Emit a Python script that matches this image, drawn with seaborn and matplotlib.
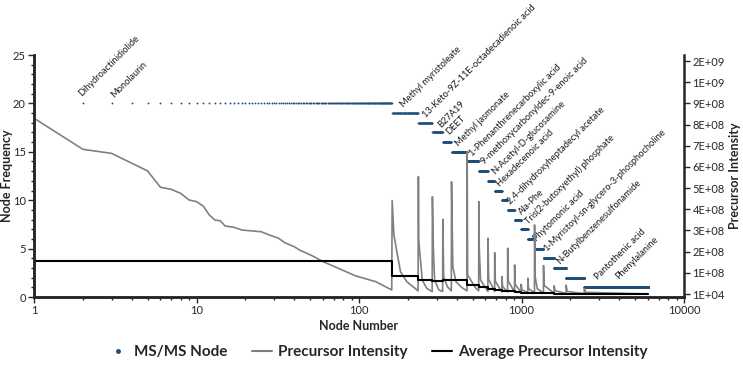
import numpy as np
import pandas as pd

import matplotlib
matplotlib.use("Agg")
import matplotlib.pyplot as plt
from matplotlib.lines import Line2D
from matplotlib.ticker import MultipleLocator, FuncFormatter, NullFormatter
import seaborn as sns


# frequency groups of MS/MS nodes (node numbers sorted by frequency)
freq_levels = [20, 19, 18, 17, 16, 15, 14, 13, 12, 11, 10, 9, 8, 7, 6, 5, 4, 3, 2, 1]
group_first = [1, 160, 232, 283, 328, 371, 463, 546, 622, 684, 758, 822, 907, 996,
               1094, 1203, 1366, 1588, 1882, 2436]
group_last = [159, 231, 282, 327, 370, 462, 545, 621, 683, 757, 821, 906, 995, 1093,
              1202, 1365, 1587, 1881, 2435, 6012]

# average precursor intensity per group (units of 1E+08)
avg_intensity = [1.57, 0.85, 0.66, 0.63, 0.66, 0.66, 0.41, 0.34, 0.25, 0.19, 0.15,
                 0.13, 0.11, 0.07, 0.06, 0.05, 0.04, 0.02, 0.01, 0.0]

# precursor intensity (units of 1E+08)
gray_node = [1, 2, 3, 5, 6, 7, 8, 9, 10, 11, 12, 13, 14, 15, 17, 19, 25, 28, 32, 35,
             40, 43, 52, 60, 79, 95, 127, 159,
             160, 164, 171, 180, 197, 231,
             232, 233, 245, 261, 282,
             283, 287, 292, 310, 327,
             328, 332, 350, 370,
             371, 378, 395, 430, 462,
             463, 466, 520, 545,
             546, 550, 560, 621,
             622, 628, 683,
             684, 690, 757,
             758, 765, 821,
             822, 830, 906,
             907, 915, 995,
             996, 1005, 1093,
             1094, 1105, 1202,
             1203, 1215, 1250, 1365,
             1366, 1380, 1587,
             1588, 1610, 1881,
             1882, 1910, 2435,
             2436, 2480, 6012]
gray_value = [8.30, 6.83, 6.64, 5.81, 5.04, 4.94, 4.75, 4.44, 4.36, 4.15, 3.73, 3.49,
              3.46, 3.21, 3.15, 3.02, 2.94, 2.79, 2.63, 2.42, 2.23, 2.08, 1.79, 1.53,
              1.13, 0.86, 0.58, 0.19,
              4.41, 2.79, 2.00, 1.05, 0.58, 0.15,
              5.54, 2.55, 0.66, 0.27, 0.11,
              4.59, 2.08, 0.66, 0.19, 0.12,
              3.53, 0.82, 0.34, 0.15,
              5.30, 1.29, 0.58, 0.30, 0.15,
              6.72, 0.90, 0.30, 0.15,
              4.36, 2.08, 0.66, 0.12,
              2.63, 0.70, 0.12,
              1.95, 0.60, 0.10,
              0.82, 0.35, 0.10,
              2.16, 0.60, 0.10,
              1.37, 0.45, 0.08,
              0.46, 0.20, 0.06,
              0.74, 0.25, 0.06,
              3.26, 0.80, 0.25, 0.05,
              1.34, 0.40, 0.04,
              0.39, 0.15, 0.03,
              0.42, 0.12, 0.02,
              0.27, 0.08, 0.00]

right_tick_labels = ["1E+04", "1E+08", "2E+08", "3E+08", "4E+08", "5E+08", "6E+08",
                     "7E+08", "8E+08", "9E+08", "1E+09", "2E+09"]

# compound annotations: text, node number, frequency at text start
label_text = ["Dihydroactinidiolide", "Monolaurin", "Methyl myristoleate",
              "13-Keto-9Z-11E-octadecadienoic acid", "B27A19", "DEET",
              "Methyl jasmonate", "1-Phenanthrenecarboxylic acid",
              "9-methoxycarbonyldec-9-enoic acid", "N-Acetyl-D-glucosamine",
              "Hexadecenoic acid", "2,4-dihydroxyheptadecyl acetate", "Ala-Phe",
              "Tris(2-butoxyethyl) phosphate", "Phytomonic acid",
              "1-Myristoyl-sn-glycero-3-phosphocholine", "N-Butylbenzenesulfonamide",
              "Pantothenic acid", "Phenylalanine"]
label_node = [1.96, 3.10, 188.8, 257.7, 321.7, 360.0, 410.8, 502.6, 592.9, 680.0,
              740.3, 859.9, 1004, 1104, 1241, 1429, 1728, 2968, 3937]
label_freq = [20.69, 20.56, 19.52, 18.49, 17.49, 16.74, 15.53, 14.49, 13.64, 12.60,
              11.39, 9.50, 8.47, 7.44, 5.71, 4.68, 3.31, 1.76, 1.76]


blue = "#1F4E79"
gray = "#808080"

sns.set_style("ticks")
plt.rcParams["font.family"] = ["Lato", "DejaVu Sans"]

ms_nodes = pd.DataFrame(
    {
        "node": np.concatenate([np.arange(a, b + 1) for a, b in zip(group_first, group_last)]),
        "freq": np.concatenate([[f] * (b - a + 1) for f, a, b in zip(freq_levels, group_first, group_last)]),
    }
)

step_x = group_first + [group_last[-1]]
step_y = avg_intensity + [avg_intensity[-1]]

fig = plt.figure(figsize=(7.43, 3.65), dpi=100)
ax = fig.add_axes([34 / 743, 68 / 365, 650 / 743, 242 / 365])

sns.scatterplot(
    data=ms_nodes,
    x="node",
    y="freq",
    ax=ax,
    color=blue,
    s=1.8,
    linewidth=0,
    legend=False,
    zorder=3
)

ax.set_xscale("log")
ax.set_xlim(1, 10000)
ax.set_ylim(0, 25)
ax.yaxis.set_major_locator(MultipleLocator(5))
ax.yaxis.set_minor_locator(MultipleLocator(1))
ax.xaxis.set_major_formatter(FuncFormatter(lambda v, p: f"{v:g}"))
ax.xaxis.set_minor_formatter(NullFormatter())

ax2 = ax.twinx()

sns.lineplot(
    x=gray_node,
    y=gray_value,
    ax=ax2,
    color=gray,
    linewidth=1.2,
    estimator=None,
    sort=False
)

sns.lineplot(
    x=step_x,
    y=step_y,
    ax=ax2,
    color="black",
    linewidth=1.5,
    drawstyle="steps-post",
    estimator=None,
    sort=False
)

ax2.set_ylim(-0.1416, 11.284)
ax2.set_yticks(range(12))
ax2.set_yticklabels(right_tick_labels)

for t, n, f in zip(label_text, label_node, label_freq):
    ax.text(n, f, t, rotation=45, rotation_mode="anchor",
            ha="left", va="baseline", fontsize=6.7, color="#1a1a1a")

for a in (ax, ax2):
    a.spines["top"].set_visible(False)
    for s in ("left", "right", "bottom"):
        a.spines[s].set_linewidth(1.8)
ax.spines["right"].set_visible(False)

ax.tick_params(axis="both", which="major", direction="out", length=4, width=1, labelsize=8, pad=2)
ax.tick_params(axis="both", which="minor", direction="out", length=2.5, width=1)
ax2.tick_params(axis="y", direction="out", length=4, width=1, labelsize=8, pad=2)

ax.set_xlabel("Node Number", fontsize=9, fontweight="bold", labelpad=3)
ax.set_ylabel("Node Frequency", fontsize=9, fontweight="bold", labelpad=0)
ax2.set_ylabel("Precursor Intensity", fontsize=9, fontweight="bold", labelpad=3)

handles = [
    Line2D([], [], color=blue, marker="o", markersize=2.5, linestyle="none"),
    Line2D([], [], color=gray, linewidth=1.5),
    Line2D([], [], color="black", linewidth=1.5),
]
fig.legend(
    handles,
    ["MS/MS Node", "Precursor Intensity", "Average Precursor Intensity"],
    loc="center",
    bbox_to_anchor=(378 / 743, 1 - 352 / 365),
    ncol=3,
    frameon=False,
    prop={"size": 11, "weight": "bold"},
    handlelength=1.3,
    handletextpad=0.4,
    columnspacing=1.6
)

plt.savefig("out.png", dpi=100)
